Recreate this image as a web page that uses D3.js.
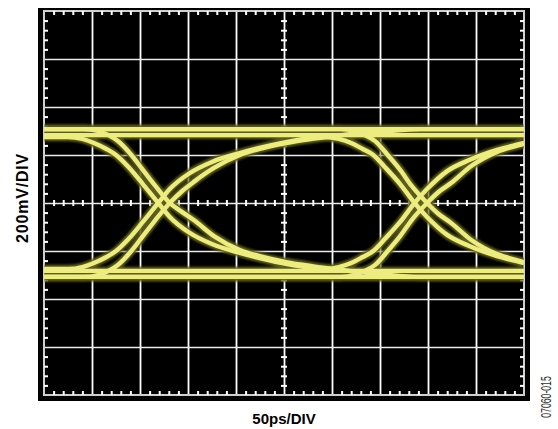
<!DOCTYPE html>
<html>
<head>
<meta charset="utf-8">
<script src="https://cdn.jsdelivr.net/npm/d3@7"></script>
<style>
  html, body { margin: 0; padding: 0; background: #fff; }
  svg { display: block; }
  text { font-family: "Liberation Sans", Arial, Helvetica, sans-serif; }
</style>
</head>
<body>
<svg width="558" height="429"></svg>
<script>
// scope screen: 10 div x 50ps, 8 div x 200mV
var timeDomain = [0, 500],
  voltDomain = [-800, 800],
  gridTime = [50, 100, 150, 200, 250, 300, 350, 400, 450],
  gridVolt = [-600, -400, -200, 0, 200, 400, 600];

var xLabel = "50ps/DIV",
  yLabel = "200mV/DIV",
  figId = "07060-015";

// eye traces, [time ps, mV]
var railHigh = [[0, 308], [500, 308]],
  railHigh2 = [[0, 283], [500, 283]],
  railLow = [[0, -308], [500, -308]],
  railLow2 = [[0, -283], [500, -283]];

// 1 -> 0 -> 0
var fallLong = [[0, 308], [42, 308], [56, 300], [67, 283], [77, 258], [91, 200], [103, 138], [116, 71],
  [131, 0], [144, -38], [156, -71], [177, -138], [204, -196], [228, -225], [252, -246], [279, -263],
  [310, -279], [350, -296], [392, -308], [500, -308]];
// 0 -> 1 -> 1
var riseLong = [[0, -308], [42, -308], [56, -300], [67, -283], [77, -258], [91, -200], [103, -138], [116, -71],
  [131, 0], [144, 50], [156, 88], [177, 146], [204, 200], [228, 229], [252, 250], [279, 267],
  [310, 283], [350, 296], [392, 308], [500, 308]];
// 0 -> 1 -> 0
var risePulse = [[0, -275], [25, -275], [40, -267], [52, -250], [65, -225], [75, -200], [88, -150], [103, -79],
  [119, 0], [131, 58], [152, 125], [175, 171], [204, 208], [228, 233], [252, 254], [279, 271],
  [293, 275], [307, 267], [320, 250], [332, 225], [343, 200], [355, 150], [371, 79], [386, 0],
  [399, -58], [420, -133], [443, -179], [472, -221], [496, -246], [500, -250]];
// 1 -> 0 -> 1
var fallPulse = [[0, 275], [25, 275], [40, 267], [52, 250], [65, 225], [75, 200], [88, 150], [103, 79],
  [119, 0], [131, -58], [152, -125], [175, -171], [204, -208], [228, -233], [252, -254], [279, -271],
  [293, -275], [307, -267], [320, -250], [332, -225], [343, -200], [355, -150], [371, -79], [386, 0],
  [399, 58], [420, 133], [443, 179], [472, 221], [496, 246], [500, 250]];
// 1 -> 1 -> 0
var fallLate = [[0, 308], [309, 308], [324, 300], [334, 283], [345, 258], [358, 200], [371, 138], [383, 71],
  [399, 0], [411, -46], [424, -83], [445, -154], [472, -213], [496, -242], [500, -246]];
// 0 -> 0 -> 1
var riseLate = [[0, -308], [309, -308], [324, -300], [334, -283], [345, -258], [358, -200], [371, -138], [383, -71],
  [399, 0], [411, 46], [424, 83], [445, 154], [472, 213], [496, 242], [500, 246]];

var traces = [railHigh, railHigh2, railLow, railLow2, fallLong, riseLong, risePulse, fallPulse, fallLate, riseLate];

var svg = d3.select("svg"),
  margin = {top: 11, right: 34, bottom: 34, left: 44},
  width = +svg.attr("width") - margin.left - margin.right,
  height = +svg.attr("height") - margin.top - margin.bottom;

var x = d3.scaleLinear().domain(timeDomain).range([0, width]),
  y = d3.scaleLinear().domain(voltDomain).range([height, 0]);

var minorTime = d3.range(0, 501, 10).filter(d => d % 50 !== 0),
  minorVolt = d3.range(-800, 801, 40).filter(d => d % 200 !== 0);

var defs = svg.append("defs");
defs.append("clipPath").attr("id", "screen")
  .append("rect").attr("width", width).attr("height", height);
defs.append("filter").attr("id", "glow")
  .attr("filterUnits", "userSpaceOnUse")
  .attr("x", -20).attr("y", -20).attr("width", width + 40).attr("height", height + 40)
  .append("feGaussianBlur").attr("stdDeviation", 1.3);
defs.append("filter").attr("id", "soft")
  .attr("filterUnits", "userSpaceOnUse")
  .attr("x", -20).attr("y", -20).attr("width", width + 40).attr("height", height + 40)
  .append("feGaussianBlur").attr("stdDeviation", 0.55);

// black bezel
svg.append("rect")
  .attr("x", margin.left - 6).attr("y", margin.top - 3)
  .attr("width", width + 12).attr("height", height + 9)
  .attr("fill", "#000");

var g = svg.append("g").attr("transform", "translate(" + margin.left + "," + margin.top + ")");

// graticule
g.append("g")
  .attr("class", "grid grid--x")
  .attr("color", "#fff")
  .call(d3.axisBottom(x).tickValues(gridTime).tickSize(height).tickFormat(""))
  .call(a => a.select(".domain").remove())
  .selectAll("line").attr("stroke-width", 1.8);

g.append("g")
  .attr("class", "grid grid--y")
  .attr("color", "#ececec")
  .call(d3.axisRight(y).tickValues(gridVolt).tickSize(width).tickFormat(""))
  .call(a => a.select(".domain").remove())
  .selectAll("line").attr("stroke-width", 1.6);

g.append("rect")
  .attr("width", width).attr("height", height)
  .attr("fill", "none")
  .attr("stroke", "#d0d0d0")
  .attr("stroke-width", 2);

// minor ticks on the edges and on the centre lines
function ticks(axis, tx, ty) {
  g.append("g")
    .attr("class", "minor")
    .attr("color", "#fff")
    .attr("transform", "translate(" + tx + "," + ty + ")")
    .call(axis.tickFormat(""))
    .call(a => a.select(".domain").remove())
    .selectAll("line").attr("stroke-width", 2);
}
ticks(d3.axisBottom(x).tickValues(minorTime).tickSize(4), 0, 0);
ticks(d3.axisTop(x).tickValues(minorTime).tickSize(4), 0, height);
ticks(d3.axisRight(y).tickValues(minorVolt).tickSize(4), 0, 0);
ticks(d3.axisLeft(y).tickValues(minorVolt).tickSize(4), width, 0);
ticks(d3.axisBottom(x).tickValues(minorTime).tickSize(6), 0, y(0) - 3);
ticks(d3.axisRight(y).tickValues(minorVolt).tickSize(6), x(250) - 3, 0);

// eye
var line = d3.line()
  .x(d => x(d[0]))
  .y(d => y(d[1]))
  .curve(d3.curveMonotoneX);

var eye = g.append("g").attr("clip-path", "url(#screen)");

eye.append("g")
  .attr("filter", "url(#glow)")
  .selectAll("path")
  .data(traces)
  .enter().append("path")
    .attr("d", line)
    .attr("fill", "none")
    .attr("stroke", "#5e5e1c")
    .attr("stroke-width", 8.5);

eye.append("g")
  .attr("filter", "url(#soft)")
  .selectAll("path")
  .data(traces)
  .enter().append("path")
    .attr("d", line)
    .attr("fill", "none")
    .attr("stroke", "#ecec80")
    .attr("stroke-width", 4.4);

// labels
svg.append("text")
  .attr("transform", "translate(" + (margin.left - 16) + "," + (margin.top + height / 2 - 5) + ") rotate(-90)")
  .attr("text-anchor", "middle")
  .style("font-size", "16px")
  .style("font-weight", "bold")
  .style("letter-spacing", "0.8px")
  .attr("fill", "#000")
  .text(yLabel);

svg.append("text")
  .attr("x", margin.left + width / 2)
  .attr("y", 424)
  .attr("text-anchor", "middle")
  .style("font-size", "15px")
  .style("font-weight", "bold")
  .attr("fill", "#000")
  .text(xLabel);

svg.append("text")
  .attr("transform", "translate(551,397) rotate(-90) scale(0.62,1)")
  .attr("text-anchor", "middle")
  .style("font-size", "14px")
  .attr("fill", "#333")
  .text(figId);
</script>
</body>
</html>
